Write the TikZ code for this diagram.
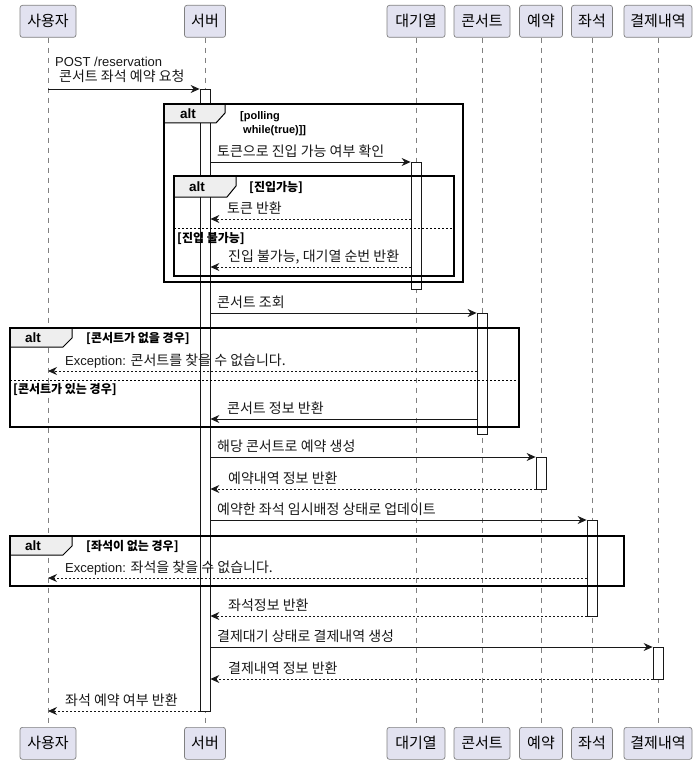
\documentclass[tikz,border=0pt]{standalone}
\usepackage{fontspec}
\setmainfont{Noto Sans CJK KR}
\newfontfamily\lat{Liberation Sans}
\usetikzlibrary{arrows.meta}
\definecolor{partfill}{HTML}{E2E2F0}
\definecolor{ink}{HTML}{181818}
\definecolor{tabfill}{HTML}{EEEEEE}
\begin{document}
\begin{tikzpicture}[x=1pt,y=-1pt,
  part/.style={draw=ink!55, fill=partfill, rounded corners=2.5pt, line width=0.7pt,
    minimum height=32pt, inner sep=0pt, anchor=north, font=\fontsize{15}{17}\selectfont},
  life/.style={draw=ink!55, line width=0.6pt, dash pattern=on 5pt off 5pt},
  actnode/.style={draw=ink, fill=white, line width=0.8pt, rectangle, inner sep=0pt, minimum width=10pt},
  msg/.style={draw=ink, line width=0.8pt, -{Stealth[length=9pt,width=8pt,inset=3pt]}},
  ret/.style={msg, dash pattern=on 2pt off 2pt},
  lbl/.style={font=\fontsize{14}{16}\selectfont, inner sep=0pt, anchor=base west, text=ink},
  latlbl/.style={lbl, font=\lat\fontsize{13}{15}\selectfont},
  grd/.style={font=\fontsize{12}{14}\selectfont\bfseries, inner sep=0pt, anchor=west, text=black},
  latgrd/.style={font=\lat\fontsize{11}{13}\selectfont\bfseries, inner sep=0pt, anchor=base west, text=black},
  altlbl/.style={font=\lat\fontsize{13.5}{15}\selectfont\bfseries, inner sep=0pt, text=black},
  frame/.style={draw=black, line width=1.5pt},
  tabshape/.style={draw=black, fill=tabfill, line width=1pt},
  sep/.style={draw=black, line width=0.7pt, dash pattern=on 2pt off 2pt}
]
\useasboundingbox (0,0) rectangle (698,765);

% participants, top and bottom
\node[part, minimum width=56pt] (usrT) at (48,5) {사용자};
\node[part, minimum width=41pt] (srvT) at (205,5) {서버};
\node[part, minimum width=58pt] (queT) at (416,5) {대기열};
\node[part, minimum width=56pt] (conT) at (482,5) {콘서트};
\node[part, minimum width=43pt] (resT) at (541,5) {예약};
\node[part, minimum width=41pt] (seatT) at (592,5) {좌석};
\node[part, minimum width=68pt] (payT) at (658,5) {결제내역};

\node[part, minimum width=56pt] (usrB) at (48,727) {사용자};
\node[part, minimum width=41pt] (srvB) at (205,727) {서버};
\node[part, minimum width=58pt] (queB) at (416,727) {대기열};
\node[part, minimum width=56pt] (conB) at (482,727) {콘서트};
\node[part, minimum width=43pt] (resB) at (541,727) {예약};
\node[part, minimum width=41pt] (seatB) at (592,727) {좌석};
\node[part, minimum width=68pt] (payB) at (658,727) {결제내역};

% lifelines
\foreach \p in {usr,srv,que,con,res,seat,pay}
  \draw[life] (\p T.south) -- (\p B.north);

% activation bars
\node[actnode, minimum height=622pt] (srvA) at (205,400) {};
\node[actnode, minimum height=127pt] (queA) at (416,225.5) {};
\node[actnode, minimum height=121pt] (conA) at (482,373.5) {};
\node[actnode, minimum height=32pt] (resA) at (541,473) {};
\node[actnode, minimum height=96pt] (seatA) at (592,568) {};
\node[actnode, minimum height=32pt] (payA) at (658,663) {};

% combined fragments
% outer polling loop
\draw[tabshape] (164,104) -- (225,104) -- (225,113) -- (216,123) -- (164,123) -- cycle;
\draw[frame] (164,104) rectangle (463,282);
\node[altlbl] (a1) at (188,114) {alt};
\node[latgrd] (g1a) at (240,120) {[polling};
\node[latgrd] (g1b) at (243,133) {while(true)]]};

% token check
\draw[tabshape] (174,176) -- (236,176) -- (236,186) -- (227,197) -- (174,197) -- cycle;
\draw[frame] (174,176) rectangle (454,276);
\node[altlbl] (a2) at (197,187) {alt};
\node[grd] (g2a) at (249,187) {[진입가능]};
\draw[sep] (174,228) -- (454,228);
\node[grd] (g2b) at (177,238) {[진입 불가능]};

% concert lookup
\draw[tabshape] (10,328) -- (72,328) -- (72,338) -- (63,347) -- (10,347) -- cycle;
\draw[frame] (10,328) rectangle (519,427);
\node[altlbl] (a3) at (33,338) {alt};
\node[grd] (g3a) at (86,338) {[콘서트가 없을 경우]};
\draw[sep] (10,380) -- (519,380);
\node[grd] (g3b) at (13,389) {[콘서트가 있는 경우]};

% seat lookup
\draw[tabshape] (10,536) -- (72,536) -- (72,546) -- (63,555) -- (10,555) -- cycle;
\draw[frame] (10,536) rectangle (624,586);
\node[altlbl] (a4) at (33,546) {alt};
\node[grd] (g4a) at (86,546) {[좌석이 없는 경우]};

% messages
\draw[msg] (usrT |- 0,89) -- (srvA.west |- 0,89);
\node[latlbl] (l1a) at (55,67) {POST /reservation};
\node[lbl] (l1b) at (59,82) {콘서트 좌석 예약 요청};

\draw[msg] (srvA.east |- 0,162) -- (queA.west |- 0,162);
\node[lbl] (l2) at (217,156) {토큰으로 진입 가능 여부 확인};

\draw[ret] (queA.west |- 0,219) -- (srvA.east |- 0,219);
\node[lbl] (l3) at (227,213) {토큰 반환};

\draw[ret] (queA.west |- 0,267) -- (srvA.east |- 0,267);
\node[lbl] (l4) at (228,261) {진입 불가능, 대기열 순번 반환};

\draw[msg] (srvA.east |- 0,313) -- (conA.west |- 0,313);
\node[lbl] (l5) at (217,307) {콘서트 조회};

\draw[ret] (conA.west |- 0,371) -- (usrT |- 0,371);
\node[lbl] (l6) at (65,365) {{\lat\fontsize{13}{15}\selectfont Exception: }콘서트를 찾을 수 없습니다.};

\draw[msg] (conA.west |- 0,419) -- (srvA.east |- 0,419);
\node[lbl] (l7) at (227,413) {콘서트 정보 반환};

\draw[msg] (srvA.east |- 0,457) -- (resA.west |- 0,457);
\node[lbl] (l8) at (217,451) {해당 콘서트로 예약 생성};

\draw[ret] (resA.west |- 0,489) -- (srvA.east |- 0,489);
\node[lbl] (l9) at (228,483) {예약내역 정보 반환};

\draw[msg] (srvA.east |- 0,520) -- (seatA.west |- 0,520);
\node[lbl] (l10) at (217,514) {예약한 좌석 임시배정 상태로 업데이트};

\draw[ret] (seatA.west |- 0,578) -- (usrT |- 0,578);
\node[lbl] (l11) at (65,572) {{\lat\fontsize{13}{15}\selectfont Exception: }좌석을 찾을 수 없습니다.};

\draw[ret] (seatA.west |- 0,616) -- (srvA.east |- 0,616);
\node[lbl] (l12) at (228,610) {좌석정보 반환};

\draw[msg] (srvA.east |- 0,647) -- (payA.west |- 0,647);
\node[lbl] (l13) at (217,641) {결제대기 상태로 결제내역 생성};

\draw[ret] (payA.west |- 0,679) -- (srvA.east |- 0,679);
\node[lbl] (l14) at (228,673) {결제내역 정보 반환};

\draw[ret] (srvA.west |- 0,711) -- (usrT |- 0,711);
\node[lbl] (l15) at (65,705) {좌석 예약 여부 반환};
\end{tikzpicture}
\end{document}
